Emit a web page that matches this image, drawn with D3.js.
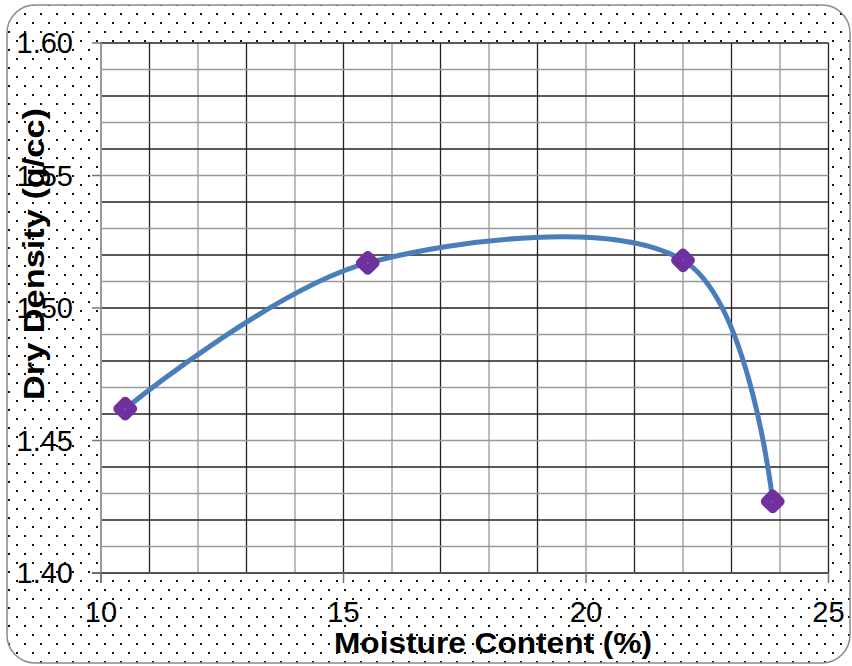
<!DOCTYPE html>
<html>
<head>
<meta charset="UTF-8">
<style>
  body { margin: 0; background: white; }
  svg text { font-family: "Liberation Sans", Arial, sans-serif; fill: #000; }
  .tick-label { font-size: 29px; }
  .axis-title { font-size: 30px; font-weight: bold; }
</style>
</head>
<body>
<svg id="chart" width="852" height="666"></svg>
<script src="https://d3js.org/d3.v7.min.js"></script>
<script>
// data
const moisture = [10.5, 15.5, 22.0, 23.85];
const density = [1.462, 1.517, 1.518, 1.427];
const xTicks = [10, 15, 20, 25];
const yTicks = [1.40, 1.45, 1.50, 1.55, 1.60];
const xTitle = "Moisture Content (%)";
const yTitle = "Dry Density (g/cc)";

const svg = d3.select("#chart");

const x = d3.scaleLinear().domain([10, 25]).range([101, 828.5]);
const y = d3.scaleLinear().domain([1.40, 1.60]).range([573, 43]);

// dotted chart-area fill
const defs = svg.append("defs");
const pat = defs.append("pattern")
    .attr("id", "dots")
    .attr("patternUnits", "userSpaceOnUse")
    .attr("width", 16)
    .attr("height", 18);
pat.append("rect").attr("x", 0).attr("y", 4).attr("width", 2).attr("height", 2).attr("fill", "#111");
pat.append("rect").attr("x", 8).attr("y", 13).attr("width", 2).attr("height", 2).attr("fill", "#111");

svg.append("rect")
    .attr("x", 7).attr("y", 5)
    .attr("width", 843).attr("height", 658)
    .attr("rx", 28).attr("ry", 28)
    .attr("fill", "url(#dots)")
    .attr("stroke", "#8a8a8a")
    .attr("stroke-width", 1.5);

// plot area
svg.append("rect")
    .attr("x", x(10)).attr("y", y(1.60))
    .attr("width", x(25) - x(10)).attr("height", y(1.40) - y(1.60))
    .attr("fill", "white");

// gridlines, alternating dark / grey
const xGrid = d3.range(11, 26);
const yGrid = d3.range(1, 21).map(i => 1.40 + i * 0.01);

svg.append("g").selectAll("line")
    .data(xGrid)
    .enter().append("line")
    .attr("x1", d => x(d)).attr("x2", d => x(d))
    .attr("y1", y(1.60)).attr("y2", y(1.40))
    .attr("stroke", d => d % 2 === 1 ? "#222" : "#999")
    .attr("stroke-width", 1.3);

svg.append("g").selectAll("line")
    .data(yGrid)
    .enter().append("line")
    .attr("x1", x(10)).attr("x2", x(25))
    .attr("y1", d => y(d)).attr("y2", d => y(d))
    .attr("stroke", (d, i) => i % 2 === 1 ? "#222" : "#999")
    .attr("stroke-width", 1.3);

// axis lines and ticks
svg.append("line")
    .attr("x1", x(10)).attr("x2", x(10))
    .attr("y1", y(1.60)).attr("y2", y(1.40) + 10)
    .attr("stroke", "#999").attr("stroke-width", 2);
svg.append("line")
    .attr("x1", x(10) - 9).attr("x2", x(25))
    .attr("y1", y(1.40)).attr("y2", y(1.40))
    .attr("stroke", "#555").attr("stroke-width", 2);

svg.append("g").selectAll("line")
    .data(yTicks)
    .enter().append("line")
    .attr("x1", x(10) - 9).attr("x2", x(10))
    .attr("y1", d => y(d)).attr("y2", d => y(d))
    .attr("stroke", "#777").attr("stroke-width", 1.5);

svg.append("g").selectAll("line")
    .data(xTicks)
    .enter().append("line")
    .attr("x1", d => x(d)).attr("x2", d => x(d))
    .attr("y1", y(1.40)).attr("y2", y(1.40) + 10)
    .attr("stroke", "#777").attr("stroke-width", 1.5);

// tick labels
svg.append("g").selectAll("text")
    .data(yTicks)
    .enter().append("text")
    .attr("class", "tick-label")
    .attr("x", 73)
    .attr("y", d => y(d))
    .attr("dy", "0.36em")
    .attr("text-anchor", "end")
    .text(d => d.toFixed(2));

svg.append("g").selectAll("text")
    .data(xTicks)
    .enter().append("text")
    .attr("class", "tick-label")
    .attr("x", d => x(d))
    .attr("y", 622)
    .attr("text-anchor", "middle")
    .text(d => d);

// axis titles
svg.append("text")
    .attr("class", "axis-title")
    .attr("x", 493).attr("y", 653)
    .attr("text-anchor", "middle")
    .attr("textLength", 318)
    .attr("lengthAdjust", "spacingAndGlyphs")
    .text(xTitle);

svg.append("text")
    .attr("class", "axis-title")
    .attr("transform", "translate(44,254) rotate(-90)")
    .attr("text-anchor", "middle")
    .attr("textLength", 292)
    .attr("lengthAdjust", "spacingAndGlyphs")
    .text(yTitle);

// smoothed line
const pts = moisture.map((m, i) => [m, density[i]]);
const line = d3.line()
    .x(d => x(d[0]))
    .y(d => y(d[1]))
    .curve(d3.curveCardinal.tension(0));

svg.append("path")
    .datum(pts)
    .attr("d", line)
    .attr("fill", "none")
    .attr("stroke", "#4a7ebb")
    .attr("stroke-width", 5)
    .attr("stroke-linecap", "round");

// diamond markers
const diamond = d3.symbol().type(d3.symbolSquare).size(110);
svg.append("g").selectAll("path")
    .data(pts)
    .enter().append("path")
    .attr("d", diamond)
    .attr("transform", d => `translate(${x(d[0])},${y(d[1])}) rotate(45)`)
    .attr("fill", "#4a7ebb")
    .attr("stroke", "#7030a0")
    .attr("stroke-width", 9)
    .attr("stroke-linejoin", "round");
</script>
</body>
</html>
